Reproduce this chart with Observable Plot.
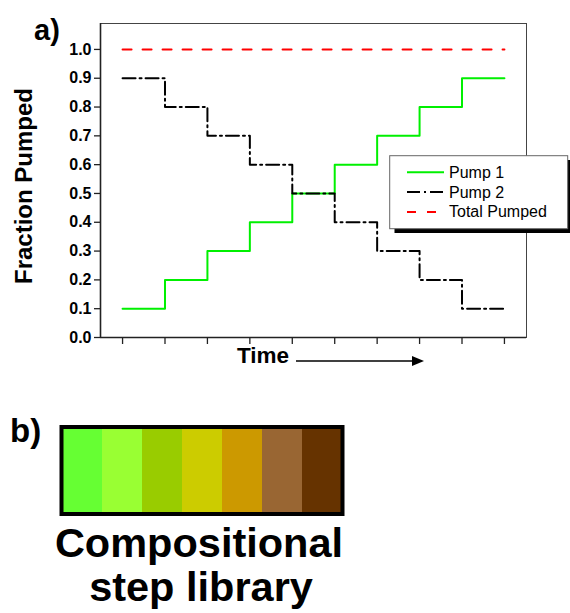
<!DOCTYPE html>
<html>
<head>
<meta charset="utf-8">
<script src="https://cdn.jsdelivr.net/npm/d3@7"></script>
<script src="https://cdn.jsdelivr.net/npm/@observablehq/plot@0.6"></script>
<style>
  html, body { margin: 0; padding: 0; background: #fff; }
  #wrap { position: relative; width: 570px; height: 613px; overflow: hidden; font-family: "Liberation Sans", Arial, sans-serif; }
  #wrap > * { position: absolute; }
  #wrap svg { font-family: "Liberation Sans", Arial, sans-serif; }
</style>
</head>
<body>
<div id="wrap"></div>
<script>
// ---- data ----
const steps = [0, 1, 2, 3, 4, 5, 6, 7, 8, 9];
const pump1 = [0.1, 0.2, 0.3, 0.4, 0.5, 0.6, 0.7, 0.8, 0.9, 0.9];
const pump2 = [0.9, 0.8, 0.7, 0.6, 0.5, 0.4, 0.3, 0.2, 0.1, 0.1];
const totalPumped = [1.0, 1.0, 1.0, 1.0, 1.0, 1.0, 1.0, 1.0, 1.0, 1.0];
const yTicks = [0, 0.1, 0.2, 0.3, 0.4, 0.5, 0.6, 0.7, 0.8, 0.9, 1.0];
const seriesNames = ["Pump 1", "Pump 2", "Total Pumped"];
const libraryColors = ["#66ff33", "#99ff33", "#99cc00", "#cccc00", "#cc9900", "#996633", "#663300"];

const rows = (vals) => steps.map((s, i) => ({x: s, y: vals[i]}));

const wrap = document.getElementById("wrap");

// ---- panel a ----
const plotA = Plot.plot({
  width: 570, height: 380,
  marginLeft: 100, marginRight: 44, marginTop: 23, marginBottom: 43,
  x: {domain: [-0.52, 9.52]},
  y: {domain: [0, 1.09]},
  marks: [
    Plot.frame({stroke: "#444", strokeWidth: 1}),
    Plot.axisY(yTicks, {tickFormat: d3.format(".1f"), tickSize: 6, tickPadding: 3, fontSize: 16, fontWeight: "bold", label: null, strokeWidth: 1.3, stroke: "#222", fill: "#000"}),
    Plot.axisX(steps, {tickSize: 7, tickFormat: () => "", label: null, strokeWidth: 1.3, stroke: "#222"}),
    Plot.ruleY([0], {stroke: "#222", strokeWidth: 1.6}),
    Plot.ruleX([-0.52], {stroke: "#222", strokeWidth: 1.6}),
    Plot.line(rows(totalPumped), {x: "x", y: "y", curve: "step-after", stroke: "#ff0000", strokeWidth: 2, strokeDasharray: "9,11"}),
    Plot.line(rows(pump1), {x: "x", y: "y", curve: "step-after", stroke: "#00f000", strokeWidth: 2}),
    Plot.line(rows(pump2), {x: "x", y: "y", curve: "step-after", stroke: "#000", strokeWidth: 2, strokeDasharray: "13,4,2,4"})
  ]
});
plotA.style.left = "0px"; plotA.style.top = "0px";
wrap.appendChild(plotA);

// ---- panel b ----
const plotB = Plot.plot({
  width: 400, height: 130,
  marginLeft: 61, marginRight: 58, marginTop: 26.5, marginBottom: 16.5,
  x: {type: "band", domain: libraryColors.map((c, i) => i), padding: 0, axis: null},
  y: {axis: null},
  marks: [
    Plot.cell(libraryColors, {x: (d, i) => i, fill: d => d}),
    Plot.frame({stroke: "#000", strokeWidth: 4})
  ]
});
plotB.style.left = "0px"; plotB.style.top = "400px";
wrap.appendChild(plotB);

// ---- annotations overlay ----
const ns = "http://www.w3.org/2000/svg";
const ov = document.createElementNS(ns, "svg");
ov.setAttribute("width", 570); ov.setAttribute("height", 613);
ov.style.left = "0px"; ov.style.top = "0px";
function el(tag, attrs, text) {
  const e = document.createElementNS(ns, tag);
  for (const k in attrs) e.setAttribute(k, attrs[k]);
  if (text != null) e.textContent = text;
  ov.appendChild(e);
  return e;
}
el("text", {x: 34, y: 40, "font-size": 29, "font-weight": "bold"}, "a)");
el("text", {x: 0, y: 0, "font-size": 24, "font-weight": "bold", "text-anchor": "middle", transform: "translate(32,186) rotate(-90)"}, "Fraction Pumped");
el("text", {x: 263, y: 363, "font-size": 22.5, "font-weight": "bold", "text-anchor": "middle"}, "Time");
el("line", {x1: 296, y1: 361, x2: 414, y2: 361, stroke: "#000", "stroke-width": 1.5});
el("path", {d: "M424,361 L412,356 L412,366 Z", fill: "#000"});

// legend
el("rect", {x: 394.5, y: 160, width: 180, height: 73, fill: "#000"});
el("rect", {x: 389.7, y: 155.7, width: 178, height: 73, fill: "#fff", stroke: "#666", "stroke-width": 1});
const legStyles = [
  {stroke: "#00f000", dash: null},
  {stroke: "#000", dash: "13,4,2,4"},
  {stroke: "#ff0000", dash: "9,11"}
];
seriesNames.forEach((name, i) => {
  const yy = 172.3 + i * 19.8;
  const ln = el("line", {x1: 407, y1: yy, x2: 444, y2: yy, stroke: legStyles[i].stroke, "stroke-width": 2});
  if (legStyles[i].dash) ln.setAttribute("stroke-dasharray", legStyles[i].dash);
  el("text", {x: 449, y: yy + 5.5, "font-size": 16}, name);
});

el("text", {x: 10, y: 442, "font-size": 33, "font-weight": "bold"}, "b)");
el("text", {x: 199, y: 557, "font-size": 41.5, "font-weight": "bold", "text-anchor": "middle"}, "Compositional");
el("text", {x: 201, y: 601, "font-size": 41.5, "font-weight": "bold", "text-anchor": "middle"}, "step library");
wrap.appendChild(ov);
</script>
</body>
</html>
